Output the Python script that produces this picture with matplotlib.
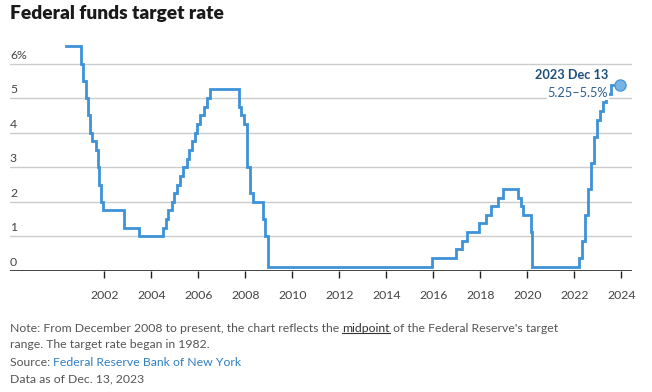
import matplotlib
matplotlib.use("Agg")
import matplotlib.pyplot as plt
from matplotlib.lines import Line2D
import datetime as dt

# ---- data: federal funds target rate (midpoint of range after Dec 2008) ----
change_dates = [
    "2000-05-16", "2001-01-03", "2001-01-31", "2001-03-20", "2001-04-18", "2001-05-15",
    "2001-06-27", "2001-08-21", "2001-09-17", "2001-10-02", "2001-11-06", "2001-12-11",
    "2002-11-06", "2003-06-25", "2004-06-30", "2004-08-10", "2004-09-21", "2004-11-10",
    "2004-12-14", "2005-02-02", "2005-03-22", "2005-05-03", "2005-06-30", "2005-08-09",
    "2005-09-20", "2005-11-01", "2005-12-13", "2006-01-31", "2006-03-28", "2006-05-10",
    "2006-06-29", "2007-09-18", "2007-10-31", "2007-12-11", "2008-01-22", "2008-01-30",
    "2008-03-18", "2008-04-30", "2008-10-08", "2008-10-29", "2008-12-16", "2015-12-16",
    "2016-12-14", "2017-03-15", "2017-06-14", "2017-12-13", "2018-03-21", "2018-06-13",
    "2018-09-26", "2018-12-19", "2019-07-31", "2019-09-18", "2019-10-30", "2020-03-03",
    "2020-03-15", "2022-03-16", "2022-05-04", "2022-06-15", "2022-07-27", "2022-09-21",
    "2022-11-02", "2022-12-14", "2023-02-01", "2023-03-22", "2023-05-03", "2023-07-26",
    "2023-12-13",
]
rates = [
    6.5, 6.0, 5.5, 5.0, 4.5, 4.0,
    3.75, 3.5, 3.0, 2.5, 2.0, 1.75,
    1.25, 1.0, 1.25, 1.5, 1.75, 2.0,
    2.25, 2.5, 2.75, 3.0, 3.25, 3.5,
    3.75, 4.0, 4.25, 4.5, 4.75, 5.0,
    5.25, 4.75, 4.5, 4.25, 3.5, 3.0,
    2.25, 2.0, 1.5, 1.0, 0.125, 0.375,
    0.625, 0.875, 1.125, 1.375, 1.625, 1.875,
    2.125, 2.375, 2.125, 1.875, 1.625, 1.125,
    0.125, 0.375, 0.875, 1.625, 2.375, 3.125,
    3.875, 4.375, 4.625, 4.875, 5.125, 5.375,
    5.375,
]
x_ticks = [2002, 2004, 2006, 2008, 2010, 2012, 2014, 2016, 2018, 2020, 2022, 2024]
y_ticks = [0, 1, 2, 3, 4, 5, 6]
y_labels = ["0", "1", "2", "3", "4", "5", "6%"]
last_label_date = "2023 Dec 13"
last_label_range = "5.25\u20135.5%"


def to_year(s):
    d = dt.date.fromisoformat(s)
    start = dt.date(d.year, 1, 1)
    end = dt.date(d.year + 1, 1, 1)
    return d.year + (d - start).days / (end - start).days


xs = [to_year(s) for s in change_dates]

FONT = "Lato"
W, H = 652, 392
fig = plt.figure(figsize=(W / 100, H / 100), dpi=100)
fig.patch.set_facecolor("white")

ax = fig.add_axes([10 / W, (H - 271) / H, (632 - 10) / W, (271 - 40) / H])
ax.set_xlim(1997.98, 2024.45)
ax.set_ylim(0, 6.68)

for s in ax.spines.values():
    s.set_visible(False)
ax.axhline(0, color="#222222", lw=1.2, zorder=3)
for v in y_ticks[1:]:
    ax.axhline(v, color="#cccccc", lw=1.0, zorder=1)
for v, lab in zip(y_ticks, y_labels):
    ax.annotate(lab, xy=(0, v), xycoords=("axes fraction", "data"),
                xytext=(0, 3), textcoords="offset pixels", ha="left", va="bottom",
                fontsize=8.8, color="#444444", family=FONT)

ax.set_yticks([])
ax.set_xticks(x_ticks)
ax.set_xticklabels([str(t) for t in x_ticks])
ax.tick_params(axis="x", direction="out", length=5, width=1, color="#222222",
               pad=9, labelsize=8.8, labelcolor="#444444")
for lab in ax.get_xticklabels():
    lab.set_family(FONT)

line_color = "#3d92d8"
ax.plot(xs, rates, drawstyle="steps-post", color=line_color, lw=2.0,
        solid_joinstyle="miter", zorder=4, clip_on=False)
ax.plot([xs[-1]], [rates[-1]], "o", ms=8.0, mfc="#78b3e6", mec="#4a98da",
        mew=1.0, zorder=6, clip_on=False)

ax.annotate(last_label_date, xy=(xs[-1], rates[-1]), xytext=(-12, 10),
            textcoords="offset pixels", ha="right", va="center",
            fontsize=9.2, fontweight="bold", color="#1d4f7c", family=FONT, zorder=7)
ax.annotate(last_label_range, xy=(xs[-1], rates[-1]), xytext=(-12, -8),
            textcoords="offset pixels", ha="right", va="center",
            fontsize=9.2, color="#2d5f8e", family=FONT, zorder=7,
            bbox=dict(boxstyle="square,pad=0.05", fc="white", ec="none"))

# ---- title ----
fig.text(10 / W, 1 - 14 / H, "Federal funds target rate", ha="left", va="center",
         fontsize=13.8, fontweight="heavy", color="#1a1a1a", family=FONT)

# ---- footnotes ----
fs = 8.85
gray = "#555555"
fig.canvas.draw()
renderer = fig.canvas.get_renderer()


def put(x_px, y_px, txt, color=gray):
    t = fig.text(x_px / W, 1 - y_px / H, txt, ha="left", va="center",
                 fontsize=fs, color=color, family=FONT)
    bb = t.get_window_extent(renderer=renderer)
    return t, bb


t1, bb1 = put(10, 328, "Note: From December 2008 to present, the chart reflects the ")
t2, bb2 = put(bb1.x1, 328, "midpoint", color="#333333")
fig.add_artist(Line2D([bb2.x0 / W, bb2.x1 / W], [bb2.y0 / H + 0.5 / H, bb2.y0 / H + 0.5 / H],
                      color="#333333", lw=0.8))
put(bb2.x1, 328, " of the Federal Reserve's target")
put(10, 344, "range. The target rate began in 1982.")
t5, bb5 = put(10, 363, "Source: ")
put(bb5.x1, 363, "Federal Reserve Bank of New York", color="#2f7fc1")
put(10, 379, "Data as of Dec. 13, 2023")

fig.savefig("out.png", dpi=100, facecolor="white")
